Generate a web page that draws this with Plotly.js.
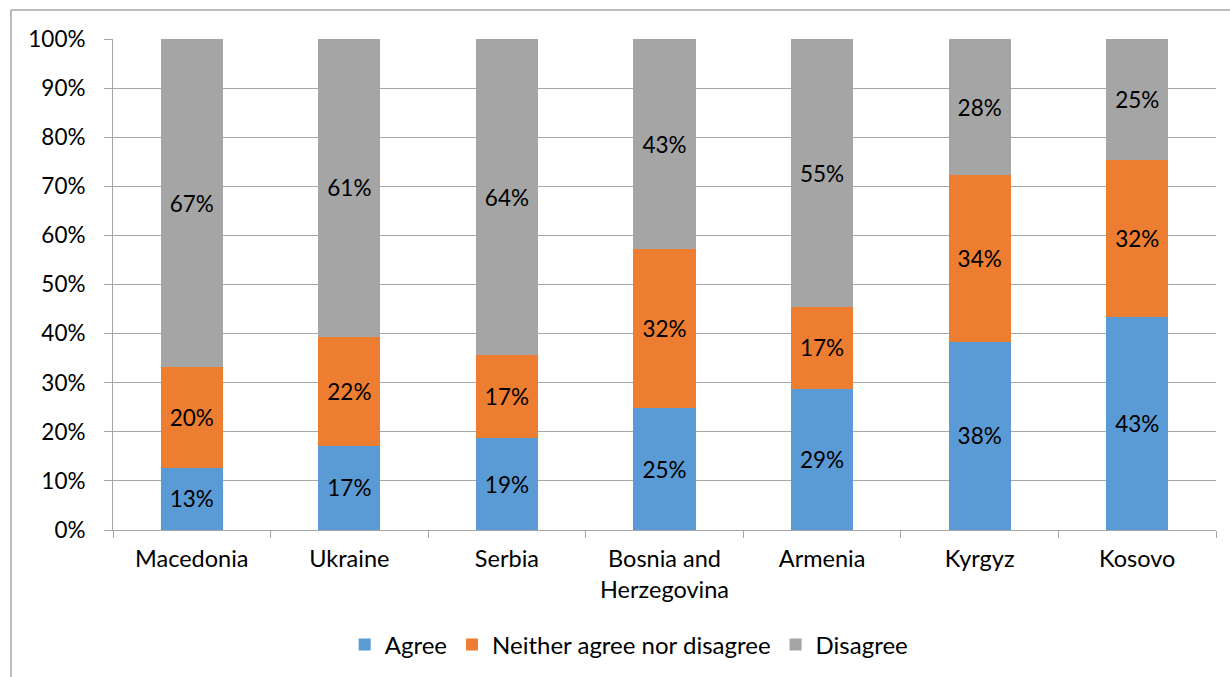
<!DOCTYPE html>
<html>
<head>
<meta charset="utf-8">
<script src="https://cdn.plot.ly/plotly-3.0.1.min.js"></script>
<style>html,body{margin:0;padding:0;background:#fff;}#chart{width:1230px;height:677px;}</style>
</head>
<body>
<div id="chart"></div>
<script>
var countries = ["Macedonia", "Ukraine", "Serbia", "Bosnia and<br>Herzegovina", "Armenia", "Kyrgyz", "Kosovo"];
var agree = [12.7, 17.2, 18.7, 24.8, 28.8, 38.3, 43.4];
var neither = [20.4, 22.2, 16.9, 32.4, 16.6, 34.0, 32.0];
var disagree = [66.9, 60.6, 64.4, 42.8, 54.6, 27.7, 24.6];
var seriesNames = ["Agree", "Neither agree nor disagree", "Disagree"];
var colors = ["#5B9BD5", "#ED7D31", "#A5A5A5"];
var yTicks = [0, 10, 20, 30, 40, 50, 60, 70, 80, 90, 100];

var FONT = "Lato, 'Open Sans', sans-serif";
var vals = [agree, neither, disagree];
var traces = vals.map(function (v, i) {
  return {
    type: "bar",
    name: seriesNames[i],
    x: countries,
    y: v,
    marker: {color: colors[i]},
    text: v.map(function (d) { return Math.round(d) + "%"; }),
    texttemplate: "%{text}",
    textposition: "inside",
    insidetextanchor: "middle",
    textangle: 0,
    constraintext: "none",
    textfont: {family: FONT, size: 22.5, color: "#000"},
    hoverinfo: "skip"
  };
});

var layout = {
  width: 1230, height: 677,
  margin: {l: 113, r: 14, t: 39, b: 147, autoexpand: false},
  barmode: "stack",
  bargap: 0.605,
  paper_bgcolor: "#fff",
  plot_bgcolor: "#fff",
  font: {family: FONT, size: 22, color: "#000"},
  showlegend: true,
  legend: {
    orientation: "h", x: 0.468, xanchor: "center", y: -0.188, yanchor: "top",
    font: {family: FONT, size: 24, color: "#000"},
    traceorder: "normal",
    itemwidth: 30
  },
  xaxis: {
    type: "category",
    automargin: false,
    showgrid: false,
    showline: true, linecolor: "#a6a6a6", linewidth: 1,
    ticks: "outside", tickson: "boundaries", ticklen: 7, tickcolor: "#a6a6a6",
    tickfont: {family: FONT, size: 23.5, color: "#000"},
    ticklabelstandoff: 8,
    fixedrange: true
  },
  yaxis: {
    range: [0, 100],
    automargin: false,
    tickvals: yTicks,
    ticktext: yTicks.map(function (t) { return t + "%"; }),
    showgrid: true, gridcolor: "#a6a6a6", gridwidth: 1,
    showline: true, linecolor: "#a6a6a6", linewidth: 1,
    ticks: "outside", ticklen: 8, tickcolor: "#a6a6a6",
    tickfont: {family: FONT, size: 22.5, color: "#000"},
    ticklabelstandoff: 14,
    zeroline: false,
    fixedrange: true
  },
  shapes: [
    {type: "line", xref: "paper", yref: "paper", x0: -0.0925, x1: 1.02, y0: 1.059, y1: 1.059,
     line: {color: "#a6a6a6", width: 1.5}},
    {type: "line", xref: "paper", yref: "paper", x0: -0.0925, x1: -0.0925, y0: 1.059, y1: -0.31,
     line: {color: "#a6a6a6", width: 1.5}}
  ]
};

Plotly.newPlot("chart", traces, layout, {displayModeBar: false, staticPlot: true});
</script>
</body>
</html>
